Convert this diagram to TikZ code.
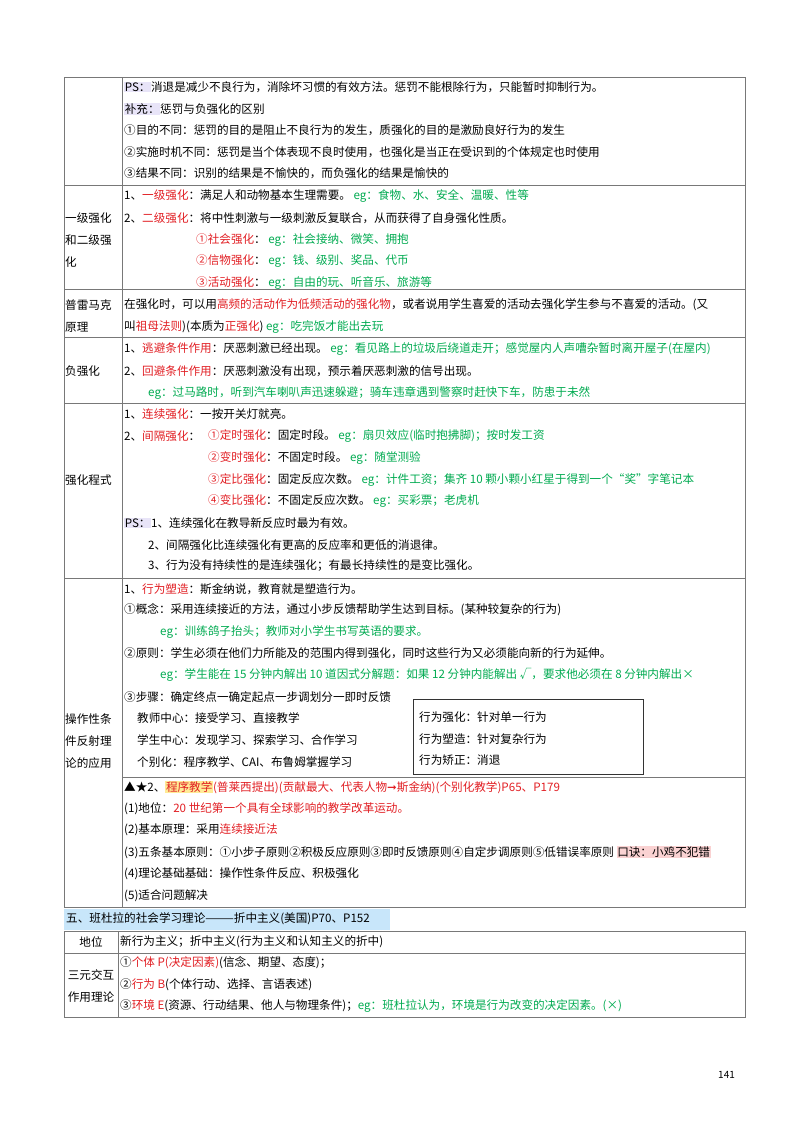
\documentclass[tikz,border=0pt]{standalone}
\usepackage{fontspec}
\setmainfont{Noto Sans CJK SC}
\newfontfamily\djv{DejaVu Sans}
\definecolor{myred}{RGB}{225,30,35}
\definecolor{mygreen}{RGB}{0,170,80}
\definecolor{lav}{RGB}{232,228,248}
\definecolor{hlyel}{RGB}{255,235,150}
\definecolor{hlpink}{RGB}{250,210,210}
\definecolor{hlblue}{RGB}{200,230,250}
\definecolor{rule}{RGB}{120,120,120}
\newcommand\rd[1]{\textcolor{myred}{#1}}
\newcommand\gn[1]{\textcolor{mygreen}{#1}}
\newcommand\hl[2]{{\setlength{\fboxsep}{0.6pt}\colorbox{#1}{#2}}}
\begin{document}
\begin{tikzpicture}[x=1pt,y=-1pt,
  tx/.style={anchor=west,inner sep=0pt,font=\fontsize{11.6}{13}\selectfont},
  tl/.style={anchor=west,inner sep=0pt,font=\fontsize{11.6}{13}\selectfont},
  tc/.style={anchor=center,inner sep=0pt,font=\fontsize{11.6}{13}\selectfont},
  grid/.style={draw=rule,line width=0.8pt}]
\useasboundingbox (0,0) rectangle (800,1130);
% table 1
\draw[grid] (64,77) rectangle (745,907);
\draw[grid] (122,77) -- (122,907);
\foreach \yy in {185,289,337,403,578}{\draw[grid] (64,\yy) -- (745,\yy);}
\draw[grid] (122,777) -- (745,777);
% row 1
\node[tx] (a1) at (124,87) {\hl{lav}{PS：}消退是减少不良行为，消除坏习惯的有效方法。惩罚不能根除行为，只能暂时抑制行为。};
\node[tx] (a2) at (124,109) {\hl{lav}{补充：}惩罚与负强化的区别};
\node[tx] (a3) at (124,130) {①目的不同：惩罚的目的是阻止不良行为的发生，质强化的目的是激励良好行为的发生};
\node[tx] (a4) at (124,152) {②实施时机不同：惩罚是当个体表现不良时使用，也强化是当正在受识到的个体规定也时使用};
\node[tx] (a5) at (124,173) {③结果不同：识别的结果是不愉快的，而负强化的结果是愉快的};
% row 2
\node[tl] (l2a) at (65,218) {一级强化};
\node[tl] (l2b) at (65,240) {和二级强};
\node[tl] (l2c) at (65,262) {化};
\node[tx] (b1) at (124,196) {1、\rd{一级强化}：满足人和动物基本生理需要。 \gn{eg：食物、水、安全、温暖、性等}};
\node[tx] (b2) at (124,218) {2、\rd{二级强化}：将中性刺激与一级刺激反复联合，从而获得了自身强化性质。};
\node[tx] (b3) at (196,240) {\rd{①社会强化}： \gn{eg：社会接纳、微笑、拥抱}};
\node[tx] (b4) at (196,261) {\rd{②信物强化}： \gn{eg：钱、级别、奖品、代币}};
\node[tx] (b5) at (196,283) {\rd{③活动强化}： \gn{eg：自由的玩、听音乐、旅游等}};
% row 3
\node[tl] (l3a) at (65,305) {普雷马克};
\node[tl] (l3b) at (65,327) {原理};
\node[tx] (c1) at (124,305) {在强化时，可以用\rd{高频的活动作为低频活动的强化物}，或者说用学生喜爱的活动去强化学生参与不喜爱的活动。(又};
\node[tx] (c2) at (124,327) {叫\rd{祖母法则})(本质为\rd{正强化}) \gn{eg：吃完饭才能出去玩}};
% row 4
\node[tl] (l4) at (65,371) {负强化};
\node[tx] (d1) at (124,349) {1、\rd{逃避条件作用}：厌恶刺激已经出现。 \gn{eg：看见路上的垃圾后绕道走开；感觉屋内人声嘈杂暂时离开屋子(在屋内)}};
\node[tx] (d2) at (124,371) {2、\rd{回避条件作用}：厌恶刺激没有出现，预示着厌恶刺激的信号出现。};
\node[tx] (d3) at (148,393) {\gn{eg：过马路时，听到汽车喇叭声迅速躲避；骑车违章遇到警察时赶快下车，防患于未然}};
% row 5
\node[tl] (l5) at (65,480) {强化程式};
\node[tx] (e1) at (124,414) {1、\rd{连续强化}：一按开关灯就亮。};
\node[tx] (e2) at (124,436) {2、\rd{间隔强化}：};
\node[tx] (e3) at (208,436) {\rd{①定时强化}：固定时段。 \gn{eg：扇贝效应(临时抱拂脚)；按时发工资}};
\node[tx] (e4) at (208,458) {\rd{②变时强化}：不固定时段。 \gn{eg：随堂测验}};
\node[tx] (e5) at (208,480) {\rd{③定比强化}：固定反应次数。 \gn{eg：计件工资；集齐 10 颗小颗小红星于得到一个“奖”字笔记本}};
\node[tx] (e6) at (208,501) {\rd{④变比强化}：不固定反应次数。 \gn{eg：买彩票；老虎机}};
\node[tx] (e7) at (124,523) {\hl{lav}{PS：}1、连续强化在教导新反应时最为有效。};
\node[tx] (e8) at (148,545) {2、间隔强化比连续强化有更高的反应率和更低的消退律。};
\node[tx] (e9) at (148,566) {3、行为没有持续性的是连续强化；有最长持续性的是变比强化。};
% row 6
\node[tl] (l6a) at (65,719) {操作性条};
\node[tl] (l6b) at (65,741) {件反射理};
\node[tl] (l6c) at (65,763) {论的应用};
\node[tx] (f1) at (124,589) {1、\rd{行为塑造}：斯金纳说，教育就是塑造行为。};
\node[tx] (f2) at (124,610) {①概念：采用连续接近的方法，通过小步反馈帮助学生达到目标。(某种较复杂的行为)};
\node[tx] (f3) at (160,632) {\gn{eg：训练鸽子抬头；教师对小学生书写英语的要求。}};
\node[tx] (f4) at (124,653) {②原则：学生必须在他们力所能及的范围内得到强化，同时这些行为又必须能向新的行为延伸。};
\node[tx] (f5) at (160,675) {\gn{eg：学生能在 15 分钟内解出 10 道因式分解题：如果 12 分钟内能解出 √，要求他必须在 8 分钟内解出×}};
\node[tx] (f6) at (124,697) {③步骤：确定终点一确定起点一步调划分一即时反馈};
\node[tx] (f7) at (137,718) {教师中心：接受学习、直接教学};
\node[tx] (f8) at (137,740) {学生中心：发现学习、探索学习、合作学习};
\node[tx] (f9) at (137,762) {个别化：程序教学、CAI、布鲁姆掌握学习};
\draw[draw=black!80,line width=0.8pt] (413,699) rectangle (643,774);
\node[tx] (g1) at (419,717) {行为强化：针对单一行为};
\node[tx] (g2) at (419,739) {行为塑造：针对复杂行为};
\node[tx] (g3) at (419,760) {行为矫正：消退};
\node[tx] (h1) at (124,787) {▲★2、\hl{hlyel}{\rd{程序教学}}\rd{(普莱西提出)(贡献最大、代表人物{\djv ➞}斯金纳)(个别化教学)P65、P179}};
\node[tx] (h2) at (124,809) {(1)地位：\rd{20 世纪第一个具有全球影响的教学改革运动。}};
\node[tx] (h3) at (124,830) {(2)基本原理：采用\rd{连续接近法}};
\node[tx] (h4) at (124,852) {(3)五条基本原则：①小步子原则②积极反应原则③即时反馈原则④自定步调原则⑤低错误率原则 \hl{hlpink}{口诀：小鸡不犯错}};
\node[tx] (h5) at (124,874) {(4)理论基础基础：操作性条件反应、积极强化};
\node[tx] (h6) at (124,896) {(5)适合问题解决};
% heading
\fill[hlblue] (64,909) rectangle (390,930);
\node[tx] (hd) at (66,919) {五、班杜拉的社会学习理论———折中主义(美国)P70、P152};
% table 2
\draw[grid] (64,931) rectangle (745,1017);
\draw[grid] (118,931) -- (118,1017);
\draw[grid] (64,953) -- (745,953);
\node[tc] (m1) at (91,942) {地位};
\node[tc] (m2) at (91,975) {三元交互};
\node[tc] (m3) at (91,997) {作用理论};
\node[tx] (n1) at (120,942) {新行为主义；折中主义(行为主义和认知主义的折中)};
\node[tx] (n2) at (120,963) {①\rd{个体 P(决定因素)}(信念、期望、态度)；};
\node[tx] (n3) at (120,985) {②\rd{行为 B}(个体行动、选择、言语表述)};
\node[tx] (n4) at (120,1006) {③\rd{环境 E}(资源、行动结果、他人与物理条件)；\gn{eg：班杜拉认为，环境是行为改变的决定因素。(×)}};
\node[tx] (pg) at (718,1075) {\fontsize{10}{12}\selectfont 141};
\end{tikzpicture}
\end{document}
